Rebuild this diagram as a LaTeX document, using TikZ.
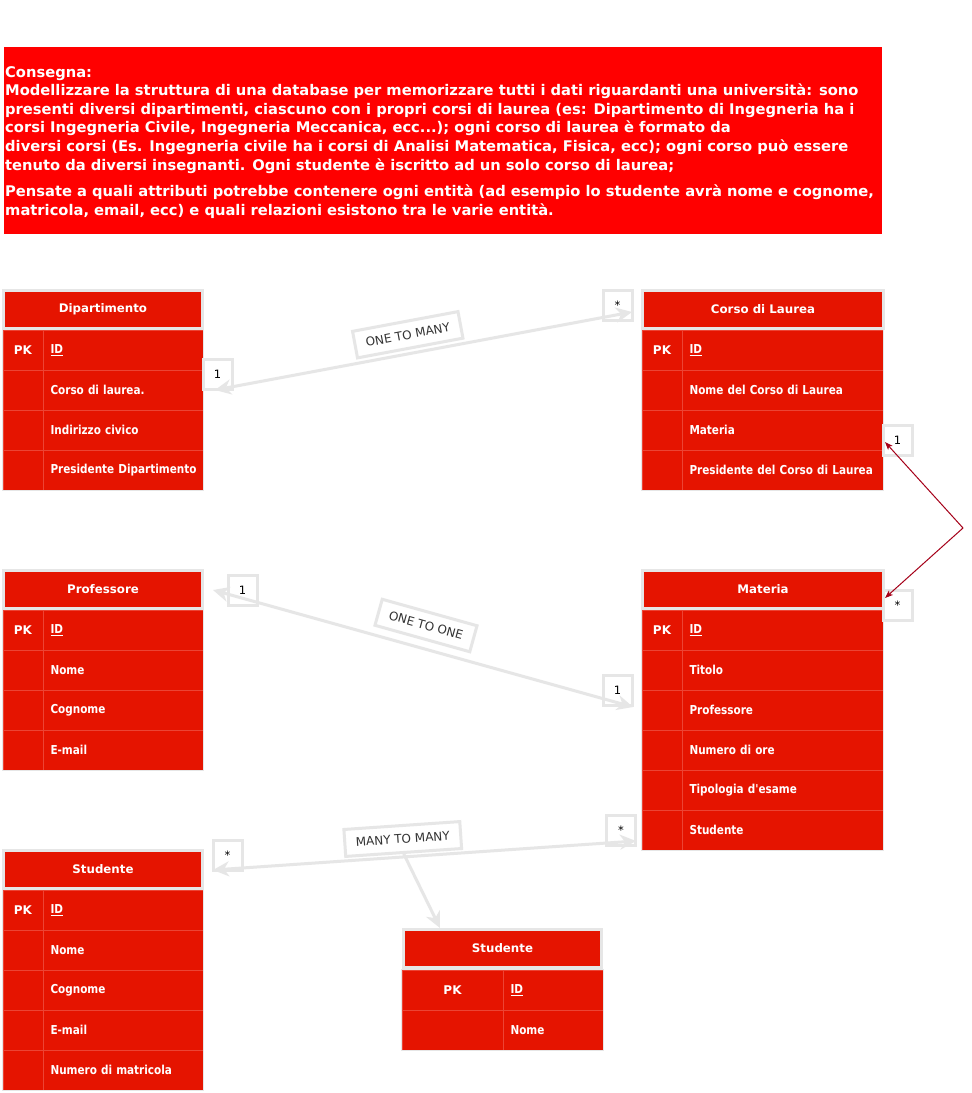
\documentclass[tikz,border=0pt]{standalone}
\usepackage{fontspec}
\setmainfont{DejaVu Sans}
\newfontfamily\condfont[FakeStretch=0.85]{DejaVu Sans}
\usetikzlibrary{arrows.meta}

\definecolor{bannerred}{RGB}{255,0,0}
\definecolor{tred}{RGB}{229,20,0}
\definecolor{sepred}{RGB}{236,68,52}
\definecolor{lgrey}{RGB}{230,230,230}
\definecolor{conred}{RGB}{165,0,25}
\definecolor{labgrey}{RGB}{51,51,51}

\tikzset{
  gtip/.tip={Stealth[length=16pt,width=15pt,inset=5pt]},
  rtip/.tip={Stealth[length=8pt,width=6pt,inset=2pt]},
  bannerline/.style={anchor=base west, inner sep=0pt, text=white,
    font=\bfseries\fontsize{14.7}{18.6}\selectfont},
  tabtitle/.style={rectangle, draw=lgrey, line width=3pt, fill=tred, text=white,
    font=\bfseries\fontsize{11.8}{14}\selectfont, minimum height=38pt, inner sep=0pt},
  cell/.style={rectangle, draw=sepred, line width=0.8pt, fill=tred, text=white,
    minimum height=40pt, inner sep=0pt},
  pkcell/.style={cell, font=\bfseries\fontsize{12}{14}\selectfont},
  fieldcell/.style={cell, font=\condfont\bfseries\fontsize{12.3}{14}\selectfont,
    align=left, inner xsep=7.5pt},
  dfield/.style={fieldcell, text width=145pt},
  cfield/.style={fieldcell, text width=186pt},
  tfield/.style={fieldcell, text width=85pt},
  bodyframe/.style={draw=lgrey, line width=1.2pt},
  card/.style={rectangle, draw=lgrey, line width=3pt, fill=white, minimum width=29pt,
    minimum height=30pt, inner sep=0pt, font=\fontsize{11.5}{13}\selectfont, text=black},
  rellabel/.style={rectangle, draw=lgrey, line width=3pt, fill=white, minimum height=27pt,
    inner xsep=11pt, inner ysep=0pt, font=\fontsize{12}{14}\selectfont, text=labgrey},
  gconn/.style={draw=lgrey, line width=3pt},
  rconn/.style={draw=conred, line width=1pt, rtip-rtip},
}

\begin{document}
\begin{tikzpicture}[x=1pt,y=-1pt]
\useasboundingbox (0,0) rectangle (972,1093);
\fill[white] (0,0) rectangle (972,1093);

% ---------- banner ----------
\fill[bannerred] (4,47) rectangle (882,234);
\node[bannerline] (b1) at (5,77) {Consegna:};
\node[bannerline] (b2) at (5,95.6) {Modellizzare la struttura di una database per memorizzare tutti i dati riguardanti una università: sono};
\node[bannerline] (b3) at (5,114.2) {presenti diversi dipartimenti, ciascuno con i propri corsi di laurea (es: Dipartimento di Ingegneria ha i};
\node[bannerline] (b4) at (5,132.8) {corsi Ingegneria Civile, Ingegneria Meccanica, ecc...); ogni corso di laurea è formato da};
\node[bannerline] (b5) at (5,151.4) {diversi corsi (Es. Ingegneria civile ha i corsi di Analisi Matematica, Fisica, ecc); ogni corso può essere};
\node[bannerline] (b6) at (5,170) {tenuto da diversi insegnanti. Ogni studente è iscritto ad un solo corso di laurea;};
\node[bannerline] (b7) at (5,196.7) {Pensate a quali attributi potrebbe contenere ogni entità (ad esempio lo studente avrà nome e cognome,};
\node[bannerline] (b8) at (5,215.3) {matricola, email, ecc) e quali relazioni esistono tra le varie entità.};

% ---------- Dipartimento ----------
\node[tabtitle, minimum width=199pt] (dT) at (103,309.5) {Dipartimento};
\node[pkcell, minimum width=40pt] (dk1) at (23,350) {PK};
\node[dfield] (df1) at (123,350) {\underline{ID}};
\node[pkcell, minimum width=40pt] (dk2) at (23,390) {};
\node[dfield] (df2) at (123,390) {Corso di laurea.};
\node[pkcell, minimum width=40pt] (dk3) at (23,430) {};
\node[dfield] (df3) at (123,430) {Indirizzo civico};
\node[pkcell, minimum width=40pt] (dk4) at (23,470) {};
\node[dfield] (df4) at (123,470) {\mbox{Presidente Dipartimento}};
\draw[bodyframe] (dk1.north west) rectangle (df4.south east);

% ---------- Corso di Laurea ----------
\node[tabtitle, minimum width=241pt] (cT) at (763,309.5) {Corso di Laurea};
\node[pkcell, minimum width=40pt] (ck1) at (662,350) {PK};
\node[cfield] (cf1) at (782.5,350) {\underline{ID}};
\node[pkcell, minimum width=40pt] (ck2) at (662,390) {};
\node[cfield] (cf2) at (782.5,390) {Nome del Corso di Laurea};
\node[pkcell, minimum width=40pt] (ck3) at (662,430) {};
\node[cfield] (cf3) at (782.5,430) {Materia};
\node[pkcell, minimum width=40pt] (ck4) at (662,470) {};
\node[cfield] (cf4) at (782.5,470) {\mbox{Presidente del Corso di Laurea}};
\draw[bodyframe] (ck1.north west) rectangle (cf4.south east);

% ---------- Professore ----------
\node[tabtitle, minimum width=199pt] (pT) at (103,589.5) {Professore};
\node[pkcell, minimum width=40pt] (pk1) at (23,630) {PK};
\node[dfield] (pf1) at (123,630) {\underline{ID}};
\node[pkcell, minimum width=40pt] (pk2) at (23,670) {};
\node[dfield] (pf2) at (123,670) {Nome};
\node[pkcell, minimum width=40pt] (pk3) at (23,710) {};
\node[dfield] (pf3) at (123,710) {Cognome};
\node[pkcell, minimum width=40pt] (pk4) at (23,750) {};
\node[dfield] (pf4) at (123,750) {E-mail};
\draw[bodyframe] (pk1.north west) rectangle (pf4.south east);

% ---------- Materia ----------
\node[tabtitle, minimum width=241pt] (mT) at (763,589.5) {Materia};
\node[pkcell, minimum width=40pt] (mk1) at (662,630) {PK};
\node[cfield] (mf1) at (782.5,630) {\underline{ID}};
\node[pkcell, minimum width=40pt] (mk2) at (662,670) {};
\node[cfield] (mf2) at (782.5,670) {Titolo};
\node[pkcell, minimum width=40pt] (mk3) at (662,710) {};
\node[cfield] (mf3) at (782.5,710) {Professore};
\node[pkcell, minimum width=40pt] (mk4) at (662,750) {};
\node[cfield] (mf4) at (782.5,750) {Numero di ore};
\node[pkcell, minimum width=40pt] (mk5) at (662,790) {};
\node[cfield] (mf5) at (782.5,790) {Tipologia d'esame};
\node[pkcell, minimum width=40pt] (mk6) at (662,830) {};
\node[cfield] (mf6) at (782.5,830) {Studente};
\draw[bodyframe] (mk1.north west) rectangle (mf6.south east);

% ---------- Studente (left) ----------
\node[tabtitle, minimum width=199pt] (sT) at (103,869.5) {Studente};
\node[pkcell, minimum width=40pt] (sk1) at (23,910) {PK};
\node[dfield] (sf1) at (123,910) {\underline{ID}};
\node[pkcell, minimum width=40pt] (sk2) at (23,950) {};
\node[dfield] (sf2) at (123,950) {Nome};
\node[pkcell, minimum width=40pt] (sk3) at (23,990) {};
\node[dfield] (sf3) at (123,990) {Cognome};
\node[pkcell, minimum width=40pt] (sk4) at (23,1030) {};
\node[dfield] (sf4) at (123,1030) {E-mail};
\node[pkcell, minimum width=40pt] (sk5) at (23,1070) {};
\node[dfield] (sf5) at (123,1070) {Numero di matricola};
\draw[bodyframe] (sk1.north west) rectangle (sf5.south east);

% ---------- Studente (centre) ----------
\node[tabtitle, minimum width=198pt] (tT) at (502.5,948.5) {Studente};
\node[pkcell, minimum width=101pt] (tk1) at (452.5,990) {PK};
\node[tfield] (tf1) at (553,990) {\underline{ID}};
\node[pkcell, minimum width=101pt] (tk2) at (452.5,1030) {};
\node[tfield] (tf2) at (553,1030) {Nome};
\draw[bodyframe] (tk1.north west) rectangle (tf2.south east);

% ---------- cardinality boxes ----------
\node[card] (c1) at (217.5,374.5) {1};
\node[card] (c2) at (617.5,305.5) {*};
\node[card] (c3) at (242.5,590) {1};
\node[card] (c4) at (617.5,690) {1};
\node[card] (c5) at (227.5,855) {*};
\node[card] (c6) at (621,830.5) {*};
\node[card] (c7) at (897.5,440) {1};
\node[card] (c8) at (897.5,605) {*};

% ---------- connector end points ----------
\coordinate (omL) at (215,390);
\coordinate (omR) at (632,312);
\coordinate (ooL) at (213,590);
\coordinate (ooR) at (633,707);
\coordinate (mmL) at (213,870);
\coordinate (mmR) at (636,841);
\coordinate (mmB) at (440,928);
\coordinate (rTop) at (885,442);
\coordinate (rBend) at (963,528);
\coordinate (rBot) at (885,598);

% ---------- grey connectors ----------
\draw[gconn, gtip-gtip] (omL) -- (omR);
\draw[gconn, gtip-gtip] (ooL) -- (ooR);
\draw[gconn, gtip-gtip] (mmL) -- (mmR);

% ---------- relation labels ----------
\node[rellabel, rotate=10.6] (l1) at (407.75,334.75) {ONE TO MANY};
\node[rellabel, rotate=-15.6] (l2) at (426,625.5) {ONE TO ONE};
\node[rellabel, rotate=3.9] (l3) at (402.75,839) {MANY TO MANY};
\draw[gconn, -gtip] (l3.south) -- (mmB);

% ---------- red connector ----------
\draw[rconn] (rTop) -- (rBend) -- (rBot);
\end{tikzpicture}
\end{document}
